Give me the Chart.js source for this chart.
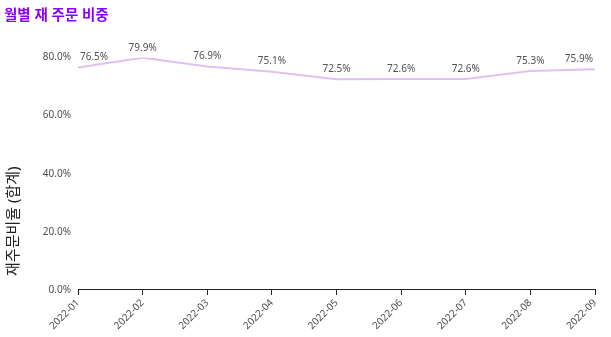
<!DOCTYPE html>
<html lang="ko">
<head>
<meta charset="utf-8">
<title>월별 재 주문 비중</title>
<script src="https://cdn.jsdelivr.net/npm/chart.js@4.4.0/dist/chart.umd.min.js"></script>
<style>
    html, body { margin: 0; padding: 0; background: #fff; }
    .chart-wrap { width: 611px; height: 337px; position: relative; }
</style>
</head>
<body>
<div class="chart-wrap">
    <canvas id="reorderChart"></canvas>
</div>
<script>
// monthly reorder share (%)
const months = ['2022-01', '2022-02', '2022-03', '2022-04', '2022-05', '2022-06', '2022-07', '2022-08', '2022-09'];
const reorderRate = [76.5, 79.9, 76.9, 75.1, 72.5, 72.6, 72.6, 75.3, 75.9];
const yTicks = [0, 20, 40, 60, 80];
const yTitle = '재주문비율 (합계)';

const FONT = "'Noto Sans', 'Noto Sans CJK KR', sans-serif";
const TEXT_GREY = '#505050';

// value labels above each point, kept inside the plot area
const pointLabels = {
    id: 'pointLabels',
    afterDatasetsDraw(chart) {
        const c = chart.ctx;
        const area = chart.chartArea;
        const meta = chart.getDatasetMeta(0);
        c.save();
        c.font = '10px ' + FONT;
        c.fillStyle = TEXT_GREY;
        c.textAlign = 'center';
        c.textBaseline = 'bottom';
        meta.data.forEach((pt, i) => {
            const txt = reorderRate[i].toFixed(1) + '%';
            const half = c.measureText(txt).width / 2;
            const x = Math.max(area.left + 2 + half, Math.min(area.right - 2 - half, pt.x));
            c.fillText(txt, x, pt.y - 5);
        });
        c.restore();
    }
};

// rotated y-axis title, sits a bit above the bottom of the plot
const sideTitle = {
    id: 'sideTitle',
    afterDraw(chart) {
        const c = chart.ctx;
        c.save();
        c.translate(14, chart.chartArea.bottom - 14);
        c.rotate(-Math.PI / 2);
        c.font = '15px ' + FONT;
        c.fillStyle = '#222';
        c.textAlign = 'left';
        c.textBaseline = 'middle';
        c.fillText(yTitle, 0, 0);
        c.restore();
    }
};

const ctx = document.getElementById('reorderChart').getContext('2d');

new Chart(ctx, {
    type: 'line',
    data: {
        labels: months,
        datasets: [{
            data: reorderRate,
            borderColor: '#dfc1ef',
            borderWidth: 2,
            pointRadius: 0,
            tension: 0,
            fill: false
        }]
    },
    options: {
        responsive: true,
        maintainAspectRatio: false,
        animation: false,
        layout: { padding: { top: 0, right: 16, left: 4, bottom: 3 } },
        plugins: {
            legend: { display: false },
            tooltip: { enabled: false },
            title: {
                display: true,
                text: '월별 재 주문 비중',
                align: 'start',
                color: '#8a00ff',
                font: { family: FONT, size: 14.5, weight: 'bold' },
                padding: { top: 7, bottom: 33 }
            }
        },
        scales: {
            x: {
                grid: { display: true, drawOnChartArea: false, drawTicks: true, tickLength: 5, color: '#222' },
                border: { display: true, color: '#222', width: 1 },
                ticks: {
                    color: TEXT_GREY,
                    font: { family: FONT, size: 10 },
                    maxRotation: 45,
                    minRotation: 45,
                    autoSkip: false,
                    padding: 2
                },
                offset: false
            },
            y: {
                min: 0,
                max: 80,
                afterBuildTicks(scale) {
                    scale.ticks = yTicks.map(v => ({ value: v }));
                },
                afterFit(scale) {
                    // room for the rotated title on the left
                    scale.width = 74;
                },
                grid: { display: false, drawTicks: false },
                border: { display: false },
                ticks: {
                    color: TEXT_GREY,
                    font: { family: FONT, size: 10 },
                    padding: 7,
                    callback: v => v.toFixed(1) + '%'
                }
            }
        }
    },
    plugins: [pointLabels, sideTitle]
});
</script>
</body>
</html>
